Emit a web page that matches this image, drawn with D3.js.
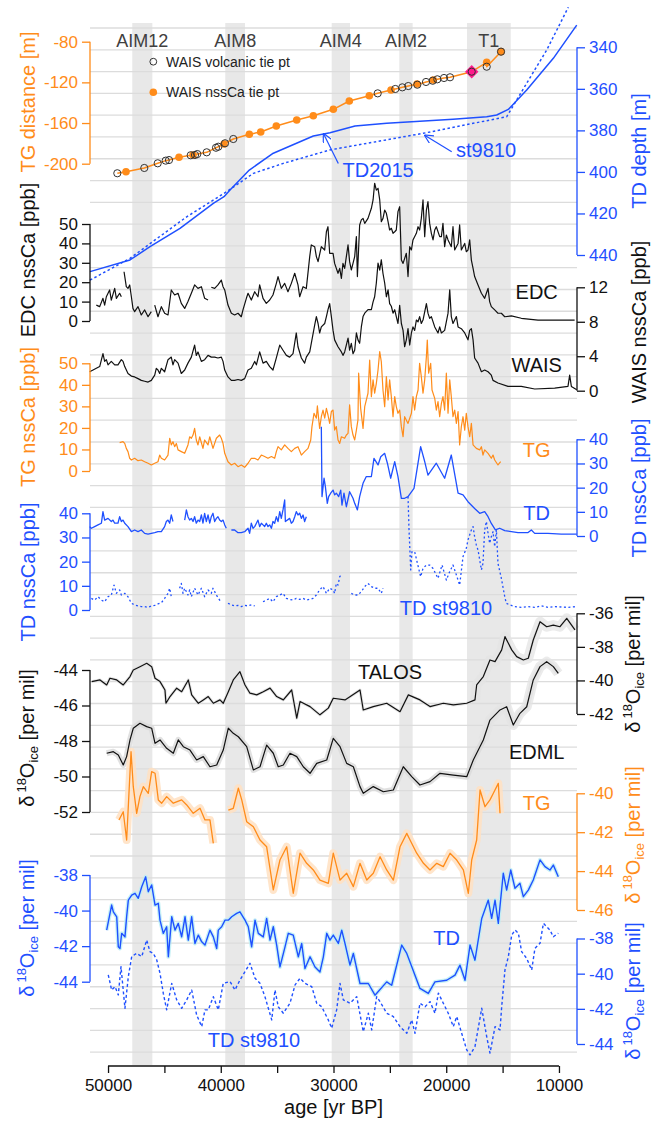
<!DOCTYPE html>
<html lang="en">
<head>
<meta charset="UTF-8">
<title>Dust and ice isotope records 50-10 ka</title>
<script src="https://d3js.org/d3.v7.min.js"></script>
<style>
  body { margin: 0; background: #fff; }
  svg text { font-family: "Liberation Sans", Arial, sans-serif; }
</style>
</head>
<body>
<svg id="chart" width="652" height="1124"></svg>
<script>
// ---------- data ----------
// AIM / T1 bands (age BP)
const aimName = ["AIM12", "AIM8", "AIM4", "AIM2", "T1"];
const aimStart = [47850, 39600, 30160, 24160, 18160];
const aimEnd = [46070, 37850, 28540, 22980, 14280];

// TG distance tie points
const nssTieAge = [48406, 43705, 42463, 39713, 37468, 36457, 35073, 33264, 31791, 30017, 28598, 26823, 24898, 22592, 21146, 16409, 15140];
const nssTieDist = [-207.9, -193.7, -191.4, -180.6, -171.1, -168.8, -162.9, -157.0, -152.8, -146.5, -138.3, -133.1, -127.5, -121.6, -117.7, -100.3, -89.8];
const volcTieAge = [49178, 46783, 45594, 44885, 44592, 42667, 42286, 42081, 41248, 40423, 40218, 39624, 38888, 26078, 24517, 23896, 23364, 22565, 21793, 21199, 20791, 20196, 19664, 17739, 16409, 15140];
const volcTieDist = [-209.4, -204.2, -199.6, -197.0, -196.4, -191.7, -191.4, -190.5, -188.8, -184.3, -183.3, -179.9, -175.7, -130.8, -126.5, -124.9, -123.6, -122.3, -119.6, -118.4, -117.0, -115.7, -115.0, -109.5, -104.6, -89.8];
const t1Age = 17739, t1Dist = -109.5;

// TD depth-age
const td2015Age = [51600, 48052, 46277, 43616, 40662, 39713, 39181, 37468, 35339, 31791, 30310, 28092, 25280, 19398, 16409, 15522, 14493, 12861, 10500, 8424];
const td2015Depth = [448.0, 442.4, 436.0, 427.2, 415.1, 411.9, 408.7, 399.1, 391.0, 382.7, 381.1, 377.9, 376.6, 374.7, 373.4, 372.6, 369.9, 360.6, 345.3, 329.3];
const st9810Age = [51600, 48052, 43022, 39474, 37114, 34452, 30310, 22033, 14635, 12861, 11086, 9170];
const st9810Depth = [452.1, 441.6, 421.6, 409.5, 400.7, 395.9, 389.4, 381.4, 373.4, 357.3, 341.3, 320.7];

// EDC nssCa
const edcAge = [51040, 50740, 50450, 50300, 50150, 49860, 49710, 49410, 49260, 48970, 48820, null, 48580, 48380, 48230, 48080, 47930, 47790, 47640, 47340, 47050, 46750, 46450, 46160, null, 45860, 45570, 45270, 44980, 44680, 44390, 44090, 43790, 43500, 43200, 42910, 42610, 42320, 42020, 41720, 41430, 41130, null, 40840, 40540, 40250, 39950, 39800, 39650, 39360, 39060, 38770, 38470, 38180, 38030, 37730, 37580, 37290, 36990, 36700, 36550, 36250, 35960, 35660, 35370, 35070, 34920, 34630, 34330, 34040, 33740, 33440, 33150, 33000, 32700, 32410, 32110, 31970, 31670, 31520, 31370, 31080, 30780, 30630, 30490, 30340, 30040, 29900, 29600, 29450, 29300, 29160, 29010, 28860, 28710, 28570, 28420, 28270, 28120, 27970, 27880, 27680, 27530, 27380, 27230, 26940, 26640, 26490, 26350, 26200, 26050, 25900, 25760, 25610, 25460, 25310, 25160, 25020, 24870, 24720, 24570, 24430, 24280, 24130, 23980, 23830, 23540, 23390, 23240, 23090, 22950, 22650, 22500, 22360, 22210, 22060, 21910, 21760, 21620, 21470, 21320, 21170, 21020, 20880, 20580, 20430, 20290, 20140, 19990, 19840, 19550, 19400, 19250, 18950, 18810, 18660, 18360, 18220, 18070, 17920, 17770, 17620, 17480, 17180, 16880, 16590, 16440, 16290, 16150, 16000, 15700, 15410, 15110, 14810, 14220, 13340, 11860, 10380, 8610];
const edcCa = [8.2, 7.4, 11.7, 8.2, 12.5, 16.0, 10.8, 16.8, 11.7, 14.3, 12.5, null, 25.4, 17.7, 16.8, 18.6, 12.5, 6.5, 4.8, 7.4, 3.1, 5.7, 2.2, 4.8, null, 8.2, 2.2, 7.4, 4.0, 3.1, 16.0, 13.4, 14.3, 9.1, 6.5, 10.0, 14.3, 18.6, 16.8, 17.7, 11.7, 10.8, null, 17.4, 16.8, 18.6, 21.1, 17.7, 16.0, 8.2, 4.0, 3.1, 4.0, 2.2, 5.7, 11.7, 14.3, 10.8, 15.1, 12.5, 18.6, 11.7, 9.1, 10.8, 13.4, 19.4, 22.9, 16.8, 19.4, 15.1, 19.4, 24.6, 18.6, 12.5, 17.7, 16.8, 33.2, 39.2, 38.3, 33.2, 30.6, 38.3, 36.6, 46.0, 48.6, 34.9, 34.9, 29.7, 24.6, 27.1, 22.0, 29.7, 27.1, 33.2, 39.2, 30.6, 26.3, 29.7, 33.2, 43.5, 22.9, 49.5, 52.1, 52.9, 50.3, 52.9, 58.1, 62.4, 71.0, 67.5, 68.4, 62.4, 51.2, 52.9, 57.2, 55.5, 51.2, 46.9, 47.8, 45.2, 46.0, 46.9, 56.4, 58.9, 31.4, 29.7, 34.9, 22.9, 38.3, 36.6, 41.8, 45.2, 48.6, 46.9, 52.9, 62.4, 43.5, 57.2, 61.5, 50.3, 45.2, 41.8, 46.9, 48.6, 43.5, 43.5, 50.3, 38.3, 44.3, 41.8, 38.3, 48.6, 36.6, 40.0, 49.5, 36.6, 40.0, 35.7, 36.6, 41.8, 31.4, 27.1, 22.9, 18.6, 14.3, 11.7, 14.3, 16.8, 10.0, 7.4, 5.7, 4.0, 4.0, 2.2, 2.6, 1.4, 0.5, 0.5, 0.5];

// WAIS nssCa
const waisAge = [51630, 51330, 51040, 50740, 50450, 50300, 50150, 50000, 49710, 49410, 49120, 48820, 48670, 48520, 48230, 47930, 47640, 47340, 47050, 46750, 46450, 46160, 45860, 45720, 45570, 45420, 45270, 44980, 44680, 44390, 44240, 44090, 43790, 43500, 43200, 42910, 42610, 42320, 42170, 42020, 41720, 41430, 41130, 40840, 40540, 40250, 39950, 39800, 39650, 39360, 39060, 38770, 38470, 38180, 37880, 37580, 37290, 36990, 36840, 36550, 36250, 35960, 35660, 35370, 35070, 34770, 34480, 34180, 33890, 33590, 33300, 33150, 32850, 32560, 32410, 32110, 31970, 31670, 31520, 31370, 31230, 31080, 30780, 30630, 30490, 30340, 30190, 30040, 29900, 29600, 29300, 29160, 29010, 28710, 28570, 28420, 28270, 28120, 27970, 27830, 27680, 27530, 27380, 27230, 26940, 26640, 26490, 26350, 26200, 26050, 25900, 25760, 25610, 25460, 25310, 25160, 25020, 24870, 24720, 24570, 24430, 24280, 24130, 23980, 23830, 23690, 23540, 23390, 23240, 23090, 22950, 22800, 22650, 22500, 22360, 22210, 22060, 21760, 21620, 21470, 21320, 21020, 20730, 20580, 20430, 20140, 19840, 19690, 19550, 19400, 19100, 18950, 18660, 18360, 18070, 17920, 17770, 17620, 17480, 17180, 16880, 16590, 16290, 16000, 15850, 15410, 14520, 13340, 12150, 10380, 9200, 9050, 8900, 8420];
const waisCa = [2.2, 2.4, 2.6, 2.8, 4.3, 3.4, 3.6, 3.0, 3.4, 3.0, 3.0, 3.6, 3.4, 2.8, 2.0, 1.7, 1.6, 1.4, 1.2, 1.1, 1.0, 1.2, 1.8, 2.6, 2.4, 2.0, 2.6, 2.2, 3.6, 3.9, 3.0, 3.6, 3.2, 2.0, 2.4, 3.2, 3.9, 5.3, 4.1, 4.5, 3.4, 3.6, 4.1, 3.9, 3.9, 3.8, 3.9, 3.4, 2.4, 1.6, 1.2, 1.2, 1.3, 1.2, 1.4, 2.4, 2.6, 3.4, 3.0, 4.5, 3.2, 3.4, 2.8, 2.4, 3.8, 5.3, 4.7, 4.1, 3.9, 4.3, 6.7, 5.1, 3.8, 3.2, 3.9, 4.5, 5.5, 7.6, 8.6, 7.8, 6.7, 7.4, 7.8, 8.6, 9.4, 10.1, 8.6, 7.0, 5.9, 5.1, 4.5, 4.1, 4.5, 6.1, 4.7, 5.5, 4.3, 4.7, 6.7, 5.9, 5.5, 7.4, 8.6, 9.0, 9.4, 9.4, 10.3, 10.9, 12.5, 14.8, 14.0, 15.2, 13.6, 12.5, 10.9, 11.7, 10.1, 9.8, 9.0, 9.4, 8.6, 7.8, 9.9, 7.8, 7.0, 5.1, 5.9, 7.2, 5.3, 6.7, 7.4, 7.0, 8.2, 8.0, 8.6, 7.8, 8.2, 10.1, 9.0, 8.4, 8.6, 7.4, 6.7, 7.4, 6.7, 7.0, 9.0, 11.7, 8.6, 7.8, 8.6, 7.4, 7.2, 6.7, 5.9, 7.0, 7.2, 5.9, 3.8, 3.2, 2.2, 2.4, 2.2, 1.8, 1.2, 0.9, 0.5, 0.5, 0.2, 0.3, 0.5, 1.8, 0.5, 0.1];

// TG nssCa
const tgCaAge = [48970, 48670, 48520, 48380, 48230, 48080, 47930, 47640, 47340, 47050, 46750, 46450, 46160, 45860, 45570, 45420, 45270, 44980, 44680, 44530, 44390, 44240, 44090, 43940, 43790, 43500, 43200, 42910, 42760, 42610, 42460, 42320, 42170, 42020, 41870, 41580, 41430, 41130, 40980, 40690, 40390, 40100, 39950, 39800, 39650, 39360, 39060, 38770, 38470, 38180, 37880, 37580, 37290, 36990, 36700, 36400, 36110, 35810, 35510, 35220, 35070, 34920, 34630, 34330, 34040, 33740, 33440, 33150, 32850, 32560, 32260, 32020, 31910, 31730, 31520, 31430, 31230, 31080, 30930, 30780, 30630, 30490, 30340, 30190, 30040, 29900, 29750, 29600, 29450, 29300, 29010, 28860, 28710, 28570, 28420, 28270, 28120, 27970, 27830, 27770, 27590, 27380, 27230, 26940, 26790, 26640, 26490, 26350, 26200, 26050, 25900, 25760, 25610, 25460, 25310, 25160, 25020, 24870, 24720, 24570, 24430, 24280, 24130, 23980, 23830, 23690, 23390, 23090, 22950, 22800, 22650, 22500, 22360, 22210, 22060, 21910, 21760, 21680, 21560, 21380, 21260, 21020, 20880, 20730, 20580, 20430, 20290, 20140, 19990, 19840, 19690, 19550, 19400, 19250, 19100, 18950, 18810, 18660, 18510, 18360, 18220, 18070, 17920, 17770, 17620, 17330, 17030, 16880, 16740, 16590, 16290, 16000, 15850, 15700, 15410, 15170];
const tgCa = [13.2, 13.6, 12.8, 10.5, 9.0, 5.9, 5.1, 5.9, 4.8, 5.1, 4.3, 3.6, 2.8, 3.6, 4.3, 7.4, 5.9, 5.1, 7.4, 15.2, 12.1, 13.6, 11.3, 12.8, 9.8, 9.0, 8.2, 12.1, 15.9, 15.2, 16.7, 19.8, 14.4, 12.1, 15.9, 10.5, 14.4, 12.1, 15.9, 10.5, 15.2, 16.7, 15.2, 12.8, 8.2, 4.3, 2.8, 3.6, 2.0, 2.8, 1.7, 3.6, 5.9, 5.9, 5.1, 7.4, 6.7, 5.9, 6.7, 5.9, 9.0, 11.3, 9.8, 12.1, 10.5, 9.0, 10.5, 11.3, 7.4, 9.0, 10.5, 14.4, 20.6, 26.8, 24.5, 30.2, 19.8, 25.2, 28.3, 24.5, 29.1, 26.0, 22.1, 27.6, 28.3, 19.0, 20.6, 14.4, 12.8, 15.9, 15.2, 16.7, 17.5, 30.7, 20.6, 16.7, 14.4, 19.0, 23.7, 45.4, 29.1, 19.8, 29.9, 36.1, 51.5, 34.5, 42.3, 36.1, 40.7, 46.9, 55.4, 50.8, 37.6, 29.9, 43.8, 33.0, 42.3, 34.5, 25.2, 34.5, 29.9, 26.8, 28.3, 20.6, 15.9, 25.2, 22.1, 26.8, 34.5, 28.3, 34.5, 37.6, 50.0, 43.8, 36.1, 42.3, 53.1, 60.8, 45.4, 50.0, 37.6, 33.7, 28.3, 32.2, 25.2, 31.4, 34.5, 28.3, 45.4, 26.8, 42.3, 34.5, 25.2, 28.3, 22.1, 27.6, 12.1, 20.6, 25.2, 19.0, 26.8, 20.6, 15.9, 22.1, 12.1, 10.5, 9.8, 11.3, 7.4, 9.8, 8.2, 5.9, 7.4, 5.1, 2.8, 4.3];

// TD2015 nssCa, older section (left axis)
const tdCaLAge = [51630, 51480, 51190, 50890, 50590, 50450, 50300, 50000, 49710, 49560, 49410, 49120, 48970, 48820, 48670, 48520, 48230, 47930, 47640, 47340, 47050, 46750, 46450, 46160, 45860, 45570, 45270, 44980, 44830, 44680, 44530, 44390, 44240, null, 43200, 43050, 42910, 42760, 42610, 42460, 42320, 42170, 42020, 41870, 41720, 41580, 41430, 41280, 41130, 40980, 40840, 40690, 40540, 40390, 40250, 40100, 39950, 39800, 39650, 39510, null, 39060, 38770, 38470, 38180, 37880, 37580, 37440, 37290, 37140, 36990, 36840, 36700, 36550, 36400, 36250, 36110, 35960, 35810, 35660, 35510, 35370, 35220, 35070, 34920, 34770, 34630, 34480, 34330, 34270, 33890, 33740, 33590, 33440, 33300, 33150, 33000, 32850, 32700, 32560, 32410];
const tdCaL = [34.5, 33.8, 34.5, 35.2, 35.9, 40.7, 37.2, 37.9, 36.6, 37.2, 35.9, 35.9, 38.6, 36.6, 37.2, 35.9, 34.5, 32.4, 33.1, 32.4, 33.1, 31.7, 31.4, 31.7, 32.0, 32.4, 32.4, 34.5, 36.6, 37.2, 35.9, 39.3, 36.6, null, 37.2, 41.4, 38.6, 37.2, 37.9, 36.6, 38.6, 35.9, 37.2, 36.6, 39.3, 35.9, 40.0, 36.6, 39.3, 35.9, 38.6, 40.0, 36.6, 37.9, 38.6, 37.2, 36.6, 37.2, 35.2, 33.8, null, 33.1, 33.1, 32.0, 32.0, 32.4, 33.8, 31.7, 35.9, 33.8, 34.5, 35.9, 37.2, 34.5, 35.9, 35.2, 34.5, 35.9, 34.5, 35.2, 33.8, 36.6, 35.9, 38.6, 36.6, 40.7, 37.9, 41.4, 45.5, 36.6, 37.9, 35.9, 36.6, 38.6, 40.7, 39.3, 40.0, 37.9, 39.3, 36.6, 38.6];

// TD2015 nssCa, younger section (right axis)
const tdCaRAge = [31080, 31020, 30840, 30720, 30550, 30430, 30250, 30040, 29900, 29750, 29540, 29360, 29250, 29070, 28860, 28570, 28270, 28120, 27880, 27680, 27380, 27090, 26640, 26410, 26050, 25810, 25460, 25220, 24930, 24570, 24280, 23980, 23690, 23390, 22860, 22270, 21910, 21620, 20880, 20140, 19550, 18950, 18510, 18070, 17480, 17030, 16590, 16290, 16000, 15640, 15260, 14810, 14220, 13630, 12740, 12450, 12150, 10970, 9790, 8420];
const tdCaR = [45.2, 16.3, 23.9, 20.4, 13.5, 16.3, 17.7, 19.0, 17.0, 17.7, 16.3, 19.0, 12.8, 17.7, 12.1, 18.3, 15.6, 13.5, 10.8, 16.3, 21.8, 24.6, 24.6, 32.1, 29.4, 32.8, 34.2, 30.1, 23.9, 30.8, 24.6, 15.6, 15.6, 16.3, 19.7, 37.0, 30.8, 25.2, 30.1, 23.9, 33.5, 17.7, 17.0, 14.2, 11.4, 9.4, 10.1, 8.0, 5.2, 2.5, 3.2, 2.2, 1.8, 1.4, 1.4, 2.5, 1.1, 1.1, 0.8, 0.8];

// TD st9810 nssCa (left axis)
const st9810CaAge = [51480, 51190, 50890, 50590, 50300, 50000, 49710, 49470, 49260, 48970, 48820, 48520, 48230, 47930, 47640, 47340, 47050, 46750, 46450, 46160, 45860, 45570, 45270, 44980, 44680, 44530, 44390, null, 43650, 43500, 43350, 43200, 42910, 42760, 42610, 42320, 42020, 41720, 41430, 41130, 40840, 40690, 40390, 40100, 39950, null, 39360, 39060, 38770, 38470, 38180, 37880, 37580, 37290, 36990, null, 36250, 35960, 35660, 35370, 35070, 34770, 34480, 34180, 33890, 33590, 33300, 33000, 32700, 32410, 32110, 31820, 31520, 31230, 30930, 30630, 30340, 30040, 29900, 29750, 29600, 29450, 29300, null, 28420, 28120, 27830, 27530, 27230, 26940, 26640, 26350, 26050, 25760, 25610, null, 23390, 23300, 23150, 23040, 22800, 22270, 22060, 21760, 21470, 21170, 20880, 20730, 20370, 19990, 19690, 19400, 19100, 18810, 18510, 18220, 18070, 17770, 17620, 17480, 17330, 17180, 17030, 16880, 16740, 16590, 16440, 16290, 16150, 16000, 15850, 15700, 15550, 15410, 15110, 14810, 14670, 14370, 13930, 13340, 12740, 12150, 11560, 10970, 10380, 9200, 8420];
const st9810Ca = [4.8, 4.1, 5.5, 4.1, 3.4, 5.5, 6.2, 10.3, 6.9, 8.3, 6.2, 6.9, 5.5, 2.8, 2.1, 1.7, 1.4, 1.4, 1.1, 1.7, 1.9, 2.5, 3.0, 4.8, 6.9, 9.0, 5.5, null, 9.0, 11.0, 6.9, 9.0, 6.2, 8.3, 5.5, 9.0, 6.2, 9.0, 5.5, 8.3, 6.9, 9.0, 6.2, 4.1, 3.9, null, 2.8, 2.1, 1.7, 1.9, 1.4, 1.9, 1.7, 2.1, 1.7, null, 3.4, 4.1, 4.8, 3.4, 5.5, 6.2, 6.9, 4.8, 4.4, 4.1, 4.8, 4.4, 4.8, 4.1, 4.4, 4.8, 6.2, 8.3, 9.7, 6.9, 9.0, 8.3, 6.9, 11.0, 10.3, 13.8, 14.5, null, 6.9, 6.2, 6.2, 7.6, 9.7, 11.0, 9.7, 9.0, 9.0, 6.9, 9.0, null, 46.9, 33.1, 16.6, 24.1, 24.1, 13.8, 17.2, 18.6, 18.6, 17.2, 14.5, 13.1, 18.6, 12.4, 15.9, 18.6, 14.5, 10.3, 22.1, 25.5, 29.0, 33.1, 34.5, 30.3, 26.9, 24.8, 20.7, 16.6, 19.3, 33.1, 36.6, 31.7, 27.6, 30.3, 32.4, 26.2, 33.1, 19.3, 13.1, 5.5, 2.8, 2.1, 1.4, 1.1, 1.4, 1.1, 1.7, 1.1, 1.4, 1.1, 1.4];

// TALOS d18O (right axis)
const talosAge = [51450, 50710, 50120, 49830, 49230, 48650, 48050, 47760, 47170, 46570, 46130, 45830, 45390, 44950, 44860, 44500, 43910, 43470, 42880, 42580, 41990, 41550, 41110, 40660, 40070, 39780, 39330, 38890, 38300, 37850, 37410, 36810, 36230, 35630, 35040, 34450, 33710, 33260, 32970, 32080, 31200, 30460, 30020, 28980, 27650, 27360, 26470, 25280, 24100, 23360, 22330, 21440, 20260, 19370, 18180, 17450, 17300, 16710, 16120, 15670, 15080, 14790, 14190, 13750, 13160, 12720, 12280, 11680, 11090, 10500, 9910, 9310, 8580];
const talosO = [-40.07, -39.97, -40.27, -39.87, -39.97, -40.27, -39.77, -39.38, -39.18, -38.98, -39.18, -39.87, -40.07, -40.57, -41.36, -40.96, -40.46, -40.67, -39.97, -40.86, -41.36, -41.16, -40.96, -41.36, -41.16, -41.36, -40.67, -39.97, -39.48, -40.27, -40.76, -40.86, -40.67, -40.46, -40.96, -41.16, -40.57, -42.25, -41.26, -41.56, -42.05, -41.65, -41.06, -41.16, -40.57, -41.76, -41.56, -41.36, -41.86, -40.86, -41.16, -41.56, -41.36, -41.46, -41.36, -41.16, -40.27, -39.77, -38.78, -38.88, -38.18, -37.39, -38.18, -38.58, -38.78, -38.68, -37.59, -36.50, -36.80, -36.70, -36.80, -36.30, -36.99];

// EDML d18O (left axis)
const edmlAge = [50120, 49530, 49090, 48650, 48350, 48050, 47760, 47170, 46570, 46130, 45830, 45390, 44800, 44210, 43770, 43320, 42730, 42140, 41550, 40960, 40360, 39780, 39330, 38890, 38440, 37700, 37110, 36520, 35930, 35340, 34900, 34450, 33860, 33260, 32680, 32080, 31490, 30600, 30020, 29420, 28830, 28240, 27650, 27360, 26470, 25580, 24690, 23810, 23060, 22330, 21440, 20550, 19370, 18180, 17600, 16710, 16120, 15230, 14640, 14050, 13460, 12860, 12280, 11680, 11090, 10500, 10060];
const edmlO = [-48.69, -48.60, -48.79, -49.35, -48.88, -47.94, -47.28, -47.00, -47.19, -47.28, -48.13, -47.94, -48.41, -48.69, -47.94, -48.32, -48.51, -49.07, -48.88, -49.45, -49.35, -48.51, -47.28, -47.57, -47.76, -48.32, -49.63, -49.45, -48.23, -48.69, -49.45, -49.35, -48.69, -48.88, -49.45, -49.82, -49.26, -49.07, -47.85, -48.32, -49.26, -49.45, -50.57, -50.95, -50.57, -50.86, -50.76, -49.45, -50.01, -50.48, -50.29, -49.82, -49.92, -50.01, -49.07, -47.94, -46.82, -46.25, -46.07, -47.10, -46.44, -46.07, -44.56, -43.81, -43.53, -43.81, -44.19];

// TG d18O (right axis)
const tgOAge = [49030, 48650, 48350, 47960, 47760, 47460, 47170, 46870, 46430, 46130, 45830, 45540, 45240, 44800, 44210, 43470, 43020, 42440, 41840, 41400, 40960, 40660, null, 39330, 38890, 38440, 38140, 37700, 37110, 36520, 35930, 35340, 34750, 34150, 33570, 32970, 32380, 31790, 31200, 30460, 30020, 29420, 28830, 28240, 27650, 27050, 26470, 25870, 25280, 24690, 24100, 23500, 23210, 22620, 22020, 21440, 20840, 20260, 19660, 19070, 18480, 18040, 17740, 17300, 17000, 16560, 16120, 15820, 15380, 15230];
const tgO = [-41.37, -40.95, -42.40, -37.86, -39.66, -41.03, -40.17, -39.66, -40.00, -38.89, -38.97, -40.34, -40.51, -40.17, -40.51, -40.34, -40.60, -41.03, -40.77, -41.37, -41.37, -42.57, null, -40.86, -40.77, -39.74, -40.34, -41.46, -41.72, -42.40, -42.75, -44.97, -43.43, -42.75, -45.14, -43.08, -43.60, -43.94, -44.46, -44.63, -43.08, -44.46, -44.11, -44.80, -43.60, -44.46, -44.11, -43.26, -43.94, -44.46, -42.75, -42.06, -42.40, -43.08, -43.60, -43.94, -43.60, -43.77, -43.08, -43.43, -43.94, -45.14, -43.43, -42.40, -39.83, -40.69, -40.34, -40.00, -39.49, -41.03];

// TD2015 d18O (left axis)
const tdOAge = [50120, 49680, 49530, 49230, 49090, 48940, 48790, 48500, 48350, 48200, 47900, 47610, 47320, 47010, 46660, 46430, 46130, 45830, 45540, 45390, 45100, 44800, 44650, 44350, 44060, 43770, 43470, 43170, 42880, 42580, 42290, 41990, 41690, 41400, 40960, 40660, 40360, 40220, 39920, 39620, 39330, 39030, 38590, 38300, 37850, 37560, 37260, 36960, 36670, 36230, 35930, 35630, 35340, 35040, 34750, 34300, 34010, 33570, 33120, 32820, 32530, 32080, 31640, 31200, 30900, 30600, 30310, 30020, 29570, 29270, 28980, 28540, 28240, 27650, 26910, 26320, 25280, 24840, 23950, 23500, 22330, 21590, 21000, 19960, 19220, 18780, 18330, 17890, 17450, 16850, 16270, 15970, 15670, 15380, 14940, 14640, 14280, 13900, 13460, 13160, 12720, 12280, 11680, 11240, 10800, 10500, 10060];
const tdO = [-41.10, -39.69, -40.07, -40.35, -42.04, -42.13, -41.28, -41.48, -40.35, -39.41, -39.13, -39.03, -39.31, -38.66, -38.10, -38.94, -38.56, -39.69, -39.59, -40.54, -41.28, -40.91, -42.60, -40.35, -41.10, -40.72, -41.48, -40.35, -41.66, -40.35, -41.85, -41.38, -41.76, -41.94, -41.10, -41.48, -42.13, -41.10, -40.91, -40.54, -40.54, -40.35, -40.16, -40.07, -40.54, -40.91, -42.04, -40.54, -41.28, -41.48, -40.44, -41.66, -40.91, -41.94, -43.17, -42.04, -41.28, -41.38, -42.60, -41.85, -43.26, -42.60, -43.17, -43.45, -42.60, -41.28, -41.66, -41.38, -41.85, -41.10, -41.85, -43.07, -42.41, -44.10, -44.10, -44.76, -44.01, -44.20, -41.94, -42.41, -44.38, -44.66, -44.01, -43.92, -43.63, -43.07, -43.92, -41.94, -42.79, -40.44, -39.41, -40.44, -39.41, -40.72, -37.90, -38.85, -37.72, -38.75, -38.47, -39.22, -38.85, -38.28, -37.15, -37.53, -37.72, -37.44, -38.10];

// TD st9810 d18O (right axis)
const st9810OAge = [49980, 49680, 49380, 49090, 48850, 48500, 48200, 47900, 47460, 47010, 46570, 46280, 45990, 45680, 45390, 45100, 44800, 44350, 43910, 43470, 43020, 42580, 42140, 41690, 41400, 41110, 40660, 40220, 39780, 39180, 38740, 38300, 37850, 37410, 36960, 36520, 36080, 35480, 35190, 34900, 34450, 33860, 33410, 32970, 32530, 31930, 31490, 31050, 30460, 30160, 29720, 29420, 29130, 28540, 27940, 27360, 26910, 26610, 26170, 25870, 25280, 24690, 24100, 23500, 23060, 22770, 22330, 21880, 21440, 21000, 20700, 20260, 19820, 19370, 19070, 18630, 18180, 17890, 17450, 16850, 16410, 16120, 15670, 15230, 15080, 14790, 14490, 14190, 13900, 13600, 13310, 12860, 12420, 12130, 11680, 11380, 10800, 10500, 10060];
const st9810O = [-40.07, -40.93, -40.74, -41.21, -39.60, -41.97, -40.17, -39.03, -38.84, -39.03, -38.09, -38.75, -38.84, -39.22, -39.98, -41.11, -42.06, -40.55, -41.49, -41.97, -41.49, -40.93, -42.35, -43.01, -42.06, -42.06, -41.31, -42.06, -40.55, -40.45, -40.93, -40.36, -39.89, -39.41, -40.26, -40.55, -41.31, -42.63, -40.93, -41.88, -42.25, -41.68, -40.64, -40.26, -40.55, -40.74, -41.68, -41.88, -42.63, -43.10, -42.06, -40.55, -41.49, -41.68, -41.31, -43.30, -42.25, -43.20, -41.31, -41.59, -42.25, -42.44, -43.01, -43.39, -42.63, -43.39, -41.68, -41.88, -41.59, -42.25, -41.11, -41.68, -42.25, -43.01, -42.44, -43.39, -44.34, -44.62, -44.15, -41.97, -43.58, -44.52, -43.01, -43.20, -41.88, -39.79, -39.03, -37.80, -37.52, -37.70, -38.75, -39.13, -39.79, -38.56, -38.27, -37.14, -37.52, -37.90, -37.70];

// tick labels
const ageTicks = [50000, 45000, 40000, 35000, 30000, 25000, 20000, 15000, 10000];
const tgDistTicks = [-80, -120, -160, -200];
const tdDepthTicks = [340, 360, 380, 400, 420, 440];
const ca50Ticks = [0, 10, 20, 30, 40, 50];
const ca40Ticks = [0, 10, 20, 30, 40];
const waisTicks = [0, 4, 8, 12];
const talosTicks = [-36, -38, -40, -42];
const edmlTicks = [-44, -46, -48, -50, -52];
const tgOTicks = [-40, -42, -44, -46];
const tdOTicks = [-38, -40, -42, -44];

// ---------- drawing ----------
const svg = d3.select("#chart");
const orange = "#ff8c1a", blue = "#1f50ff", black = "#111111";

const x = d3.scaleLinear().domain([51600, 8400]).range([90, 577]);

const yTgDist = d3.scaleLinear().domain([-80, -200]).range([41.7, 163.7]);
const yTdDepth = d3.scaleLinear().domain([340, 440]).range([47.3, 255]);
const yEdc = d3.scaleLinear().domain([0, 50]).range([321, 224]);
const yWais = d3.scaleLinear().domain([0, 12]).range([390.7, 287.3]);
const yTgCa = d3.scaleLinear().domain([0, 50]).range([471, 363.3]);
const yTdCaR = d3.scaleLinear().domain([0, 40]).range([536, 439.3]);
const yTdCaL = d3.scaleLinear().domain([0, 40]).range([610, 513.3]);
const yTalos = d3.scaleLinear().domain([-36, -42]).range([613.3, 714]);
const yEdml = d3.scaleLinear().domain([-44, -52]).range([670, 812]);
const yTgO = d3.scaleLinear().domain([-40, -46]).range([793.3, 910]);
const yTdOL = d3.scaleLinear().domain([-38, -44]).range([875, 981.7]);
const yTdOR = d3.scaleLinear().domain([-38, -44]).range([938.5, 1044]);

function pts(ages, vals) {
  return ages.map((a, i) => ({ a: a, v: vals[i] }));
}

function drawLine(data, y, color, width, dash) {
  const line = d3.line()
    .defined(d => d.a !== null && d.v !== null)
    .x(d => x(d.a))
    .y(d => y(d.v));
  return svg.append("path")
    .datum(data)
    .attr("d", line)
    .attr("fill", "none")
    .attr("stroke", color)
    .attr("stroke-width", width)
    .attr("stroke-linejoin", "round")
    .attr("stroke-dasharray", dash || null);
}

// bands
svg.append("g").selectAll("rect")
  .data(aimName.map((n, i) => ({ n: n, s: aimStart[i], e: aimEnd[i] })))
  .join("rect")
  .attr("x", d => x(d.s))
  .attr("width", d => x(d.e) - x(d.s))
  .attr("y", 23)
  .attr("height", 1042)
  .attr("fill", "#e8e8e8");

// horizontal guide lines
svg.append("g").selectAll("line")
  .data(d3.range(48))
  .join("line")
  .attr("x1", 90).attr("x2", 577)
  .attr("y1", i => 28 + i * 21.79).attr("y2", i => 28 + i * 21.79)
  .attr("stroke", "#dcdcdc")
  .attr("stroke-width", 1.3);

// band labels
svg.append("g").selectAll("text")
  .data(aimName.map((n, i) => ({ n: n, m: (aimStart[i] + aimEnd[i]) / 2 })))
  .join("text")
  .attr("x", d => x(d.m))
  .attr("y", 47)
  .attr("text-anchor", "middle")
  .attr("font-size", 18)
  .attr("fill", "#404040")
  .text(d => d.n);

// TD depth-age curves
drawLine(pts(td2015Age, td2015Depth), yTdDepth, blue, 1.5);
drawLine(pts(st9810Age, st9810Depth), yTdDepth, blue, 1.5, "2.5,2.5");

// TG tie points
const tiePts = pts(nssTieAge, nssTieDist).concat(pts(volcTieAge, volcTieDist))
  .sort((p, q) => q.a - p.a);
drawLine(tiePts, yTgDist, orange, 1.5);
svg.append("g").selectAll("circle")
  .data(pts(nssTieAge, nssTieDist))
  .join("circle")
  .attr("cx", d => x(d.a)).attr("cy", d => yTgDist(d.v))
  .attr("r", 3.8)
  .attr("fill", orange);
svg.append("path")
  .attr("d", d3.symbol(d3.symbolSquare, 90)())
  .attr("transform", `translate(${x(t1Age)},${yTgDist(t1Dist)}) rotate(45)`)
  .attr("fill", "#ff1a8c");
svg.append("g").selectAll("circle")
  .data(pts(volcTieAge, volcTieDist))
  .join("circle")
  .attr("cx", d => x(d.a)).attr("cy", d => yTgDist(d.v))
  .attr("r", 3.6)
  .attr("fill", "none")
  .attr("stroke", "#333")
  .attr("stroke-width", 1);

// legend
svg.append("circle").attr("cx", 153.3).attr("cy", 61.7).attr("r", 3.4)
  .attr("fill", "none").attr("stroke", "#333").attr("stroke-width", 1);
svg.append("text").attr("x", 166).attr("y", 66.5).attr("font-size", 14).attr("fill", "#222")
  .text("WAIS volcanic tie pt");
svg.append("circle").attr("cx", 153.3).attr("cy", 92.3).attr("r", 3.8).attr("fill", orange);
svg.append("text").attr("x", 166).attr("y", 97).attr("font-size", 14).attr("fill", "#222")
  .text("WAIS nssCa tie pt");

// nssCa records
drawLine(pts(edcAge, edcCa), yEdc, black, 1.2);
drawLine(pts(waisAge, waisCa), yWais, black, 1.2);
drawLine(pts(tgCaAge, tgCa), yTgCa, orange, 1.2);
drawLine(pts(tdCaLAge, tdCaL), yTdCaL, blue, 1.3);
drawLine(pts(tdCaRAge, tdCaR), yTdCaR, blue, 1.3);
drawLine(pts(st9810CaAge, st9810Ca), yTdCaL, blue, 1.3, "2,2.5");

// d18O records: pale wide strokes stand in for the raw data behind each smooth
const talosPts = pts(talosAge, talosO);
const edmlPts = pts(edmlAge, edmlO);
drawLine(talosPts, yTalos, "#e0e0e0", 3).attr("opacity", 0.9);
drawLine(talosPts.filter(d => d.a < 17600), yTalos, "#e4e4e4", 10).attr("opacity", 0.75);
drawLine(edmlPts, yEdml, "#dadada", 6).attr("opacity", 0.8);
drawLine(edmlPts.filter(d => d.a < 17600), yEdml, "#e4e4e4", 10).attr("opacity", 0.75);
drawLine(pts(tgOAge, tgO), yTgO, "#ffe0c2", 8).attr("opacity", 0.85);
drawLine(pts(tdOAge, tdO), yTdOL, "#bdeef5", 4).attr("opacity", 0.85);

drawLine(talosPts, yTalos, black, 1.2);
drawLine(edmlPts, yEdml, black, 1.2);
drawLine(pts(tgOAge, tgO), yTgO, orange, 1.3);
drawLine(pts(tdOAge, tdO), yTdOL, blue, 1.4);
drawLine(pts(st9810OAge, st9810O), yTdOR, blue, 1.4, "3,2.5");

// ---------- axes ----------
function yAxis(scale, ticks, side, color) {
  const xp = side === "left" ? 90 : 577;
  const ax = (side === "left" ? d3.axisLeft(scale) : d3.axisRight(scale))
    .tickValues(ticks).tickSize(8).tickPadding(4).tickFormat(d => String(d));
  const g = svg.append("g").attr("transform", `translate(${xp},0)`).call(ax);
  g.attr("font-size", 17).attr("font-family", null);
  g.select(".domain").remove();
  g.append("line")
    .attr("y1", scale(ticks[0])).attr("y2", scale(ticks[ticks.length - 1]))
    .attr("stroke", color).attr("stroke-width", 1.3);
  g.selectAll(".tick line").attr("stroke", color).attr("stroke-width", 1.3);
  g.selectAll(".tick text").attr("fill", color);
}

yAxis(yTgDist, tgDistTicks, "left", orange);
yAxis(yTdDepth, tdDepthTicks, "right", blue);
yAxis(yEdc, ca50Ticks, "left", black);
yAxis(yWais, waisTicks, "right", black);
yAxis(yTgCa, ca50Ticks, "left", orange);
yAxis(yTdCaR, ca40Ticks, "right", blue);
yAxis(yTdCaL, ca40Ticks, "left", blue);
yAxis(yTalos, talosTicks, "right", black);
yAxis(yEdml, edmlTicks, "left", black);
yAxis(yTgO, tgOTicks, "right", orange);
yAxis(yTdOL, tdOTicks, "left", blue);
yAxis(yTdOR, tdOTicks, "right", blue);

const gx = svg.append("g").attr("transform", "translate(0,1066)")
  .call(d3.axisBottom(x).tickValues(ageTicks).tickSize(7).tickPadding(6)
    .tickFormat(d => d % 10000 === 0 ? String(d) : ""));
gx.attr("font-size", 17).attr("font-family", null);
gx.select(".domain").remove();
gx.append("line").attr("x1", x(50000)).attr("x2", x(10000))
  .attr("stroke", black).attr("stroke-width", 1.3);
gx.selectAll(".tick line").attr("stroke", black).attr("stroke-width", 1.3);
gx.selectAll(".tick text").attr("fill", black);

svg.append("text").attr("x", 333.5).attr("y", 1114).attr("text-anchor", "middle")
  .attr("font-size", 20).attr("fill", black).text("age [yr BP]");

// axis titles (rotated)
function vTitle(bx, cy, color, txt) {
  return svg.append("text")
    .attr("transform", `translate(${bx},${cy}) rotate(-90)`)
    .attr("text-anchor", "middle")
    .attr("font-size", 20)
    .attr("fill", color)
    .text(txt);
}
function deltaTitle(bx, cy, color) {
  const t = vTitle(bx, cy, color, null);
  t.append("tspan").text("δ");
  t.append("tspan").attr("font-size", 13).attr("dx", 3).attr("dy", -8).text("18");
  t.append("tspan").attr("dy", 8).text("O");
  t.append("tspan").attr("font-size", 13).attr("dy", 4).text("ice");
  t.append("tspan").attr("dy", -4).text(" [per mil]");
}

vTitle(35, 102, orange, "TG distance [m]");
vTitle(646, 151, blue, "TD depth [m]");
vTitle(35, 260, black, "EDC nssCa [ppb]");
vTitle(646, 322, black, "WAIS nssCa [ppb]");
vTitle(35, 417, orange, "TG nssCa [ppb]");
vTitle(646, 488, blue, "TD nssCa [ppb]");
vTitle(35, 572, blue, "TD nssCa [ppb]");
deltaTitle(640, 664, black);
deltaTitle(34, 738, black);
deltaTitle(640, 835, orange);
deltaTitle(34, 928, blue);
deltaTitle(640, 991, blue);

// ---------- record labels ----------
function label(px, py, color, txt) {
  svg.append("text").attr("x", px).attr("y", py).attr("text-anchor", "middle")
    .attr("dominant-baseline", "central").attr("font-size", 20).attr("fill", color).text(txt);
}
label(536.7, 291.7, black, "EDC");
label(536.7, 365, black, "WAIS");
label(536.7, 450, orange, "TG");
label(536.7, 512.7, blue, "TD");
label(446, 608, blue, "TD st9810");
label(390, 671.7, black, "TALOS");
label(536.7, 751.7, black, "EDML");
label(536.7, 803.3, orange, "TG");
label(446.7, 938.3, blue, "TD");
label(254, 1040, blue, "TD st9810");

// depth curve annotations with arrows
svg.append("defs").append("marker")
  .attr("id", "arrow").attr("viewBox", "0 0 10 10")
  .attr("refX", 10).attr("refY", 5)
  .attr("markerWidth", 9).attr("markerHeight", 9)
  .attr("markerUnits", "userSpaceOnUse")
  .attr("orient", "auto")
  .append("path").attr("d", "M0,0L10,5L0,10")
  .attr("fill", "none").attr("stroke", blue).attr("stroke-width", 1.3);

svg.append("line")
  .attr("x1", x(29573)).attr("y1", yTdDepth(395.9))
  .attr("x2", x(30904)).attr("y2", yTdDepth(381.4))
  .attr("stroke", blue).attr("stroke-width", 1.2).attr("marker-end", "url(#arrow)");
label(x(26040), yTdDepth(399.1), blue, "TD2015");

svg.append("line")
  .attr("x1", x(19514)).attr("y1", yTdDepth(390.3))
  .attr("x2", x(21950)).attr("y2", yTdDepth(382.2))
  .attr("stroke", blue).attr("stroke-width", 1.2).attr("marker-end", "url(#arrow)");
label(x(16470), yTdDepth(389.5), blue, "st9810");
</script>
</body>
</html>
